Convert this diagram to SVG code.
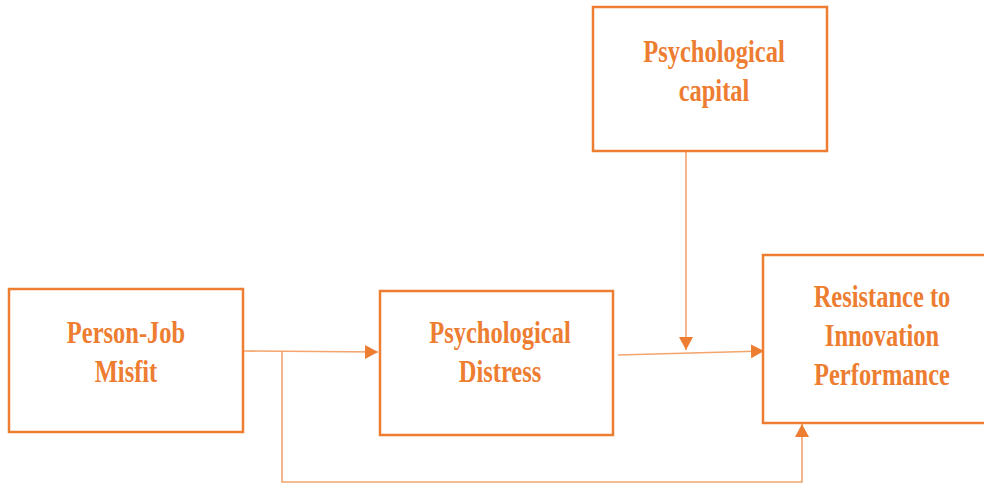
<svg xmlns="http://www.w3.org/2000/svg" width="984" height="485" viewBox="0 0 984 485">
  <style>
    .box { fill: #ffffff; stroke: #ED7D31; stroke-width: 2.5; }
    .lbl { font-family: "Liberation Serif", "Times New Roman", serif; font-weight: bold; font-size: 31px; fill: #ED7D31; text-anchor: middle; }
    .con { fill: none; stroke: #F4A46C; stroke-width: 1.6; }
  </style>
  <defs>
    <marker id="arr" markerUnits="userSpaceOnUse" markerWidth="14" markerHeight="16" viewBox="0 0 14 16" refX="13" refY="8" orient="auto">
      <path d="M0,1 L13,8 L0,15 Z" fill="#ED7D31"/>
    </marker>
  </defs>
  <rect width="984" height="485" fill="#ffffff"/>

  <g id="connectors">
    <path class="con" d="M244,351 L378,352" marker-end="url(#arr)"/>
    <path class="con" d="M282,352 L282,482 L802,482 L802,424" marker-end="url(#arr)"/>
    <path class="con" d="M618,355 L764,351" marker-end="url(#arr)"/>
    <path class="con" d="M686,152 L686,350" marker-end="url(#arr)"/>
  </g>

  <g id="person-job-misfit">
    <rect class="box" x="9" y="289" width="234" height="143"/>
    <text class="lbl" transform="translate(126,343) scale(0.79,1)">Person-Job</text>
    <text class="lbl" transform="translate(126,382) scale(0.79,1)">Misfit</text>
  </g>

  <g id="psychological-distress">
    <rect class="box" x="380" y="291" width="233" height="144"/>
    <text class="lbl" transform="translate(500,343) scale(0.79,1)">Psychological</text>
    <text class="lbl" transform="translate(500,382) scale(0.79,1)">Distress</text>
  </g>

  <g id="psychological-capital">
    <rect class="box" x="593" y="7" width="234" height="144"/>
    <text class="lbl" transform="translate(714,62) scale(0.79,1)">Psychological</text>
    <text class="lbl" transform="translate(714,101) scale(0.79,1)">capital</text>
  </g>

  <g id="resistance-to-innovation-performance">
    <rect class="box" x="763" y="255" width="225" height="168"/>
    <text class="lbl" transform="translate(882,307) scale(0.79,1)">Resistance to</text>
    <text class="lbl" transform="translate(882,346) scale(0.79,1)">Innovation</text>
    <text class="lbl" transform="translate(882,385) scale(0.79,1)">Performance</text>
  </g>
</svg>
